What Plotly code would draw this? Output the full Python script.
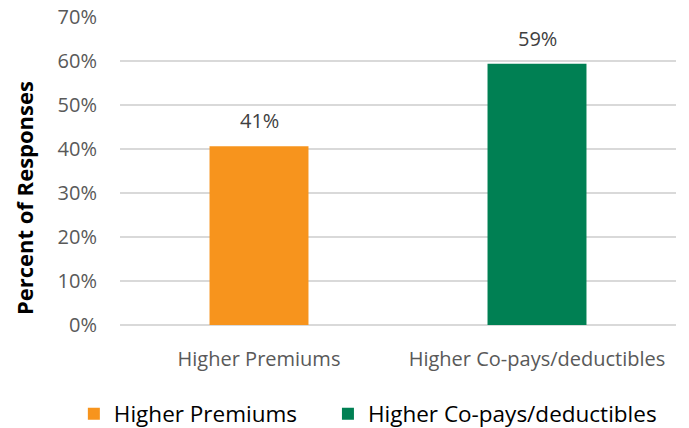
import plotly.graph_objects as go

# Survey results: which cost increase respondents preferred
categories = ["Higher Premiums", "Higher Co-pays/deductibles"]
percent_values = [40.6, 59.4]
bar_colors = ["#F7941D", "#008053"]
y_ticks = [0, 10, 20, 30, 40, 50, 60, 70]
y_tick_labels = [f"{t}%" for t in y_ticks]

FONT = "'Open Sans', Lato, sans-serif"

# one legend box per series so each entry can be placed independently
legend_ids = ["legend", "legend2"]
legend_x = [-0.083, 0.374]

fig = go.Figure()
for cat, val, col, lid in zip(categories, percent_values, bar_colors, legend_ids):
    fig.add_trace(go.Bar(
        x=[cat], y=[val], name=cat,
        marker=dict(color=col, line=dict(width=0)),
        width=0.356, legend=lid,
    ))
    # value label above each bar
    fig.add_annotation(
        x=cat, y=val, xref="x", yref="y",
        text=f"{val:.0f}%", showarrow=False,
        yanchor="bottom", yshift=10,
        font=dict(family=FONT, size=20, color="#404040"),
    )

# vertical axis title
fig.add_annotation(
    x=-0.1727, y=0.412, xref="paper", yref="paper",
    text="<b>Percent of Responses</b>", showarrow=False,
    textangle=-90, xanchor="center", yanchor="middle",
    font=dict(family=FONT, size=22, color="#000000"),
)

legend_style = dict(
    orientation="h", y=-0.289,
    xanchor="left", yanchor="middle",
    font=dict(family=FONT, size=22.5, color="#000000"),
    bgcolor="rgba(0,0,0,0)",
)

fig.update_layout(
    width=689, height=428,
    margin=dict(l=120, r=13, t=17, b=103, autoexpand=False),
    paper_bgcolor="white", plot_bgcolor="white",
    barmode="overlay",
    showlegend=True,
    legend=dict(x=legend_x[0], **legend_style),
    legend2=dict(x=legend_x[1], **legend_style),
    xaxis=dict(
        type="category", range=[-0.5, 1.5],
        showgrid=False, showline=False, ticks="",
        tickfont=dict(family=FONT, size=20, color="#595959"),
        ticklabelstandoff=20,
    ),
    yaxis=dict(
        range=[0, 70], tickvals=y_ticks, ticktext=y_tick_labels,
        showgrid=True, gridcolor="#D9D9D9", gridwidth=1.5,
        zeroline=True, zerolinecolor="#D9D9D9", zerolinewidth=1.5,
        showline=False, ticks="",
        tickfont=dict(family=FONT, size=20, color="#595959"),
        ticklabelstandoff=22,
    ),
)

fig.write_html("out.html")
